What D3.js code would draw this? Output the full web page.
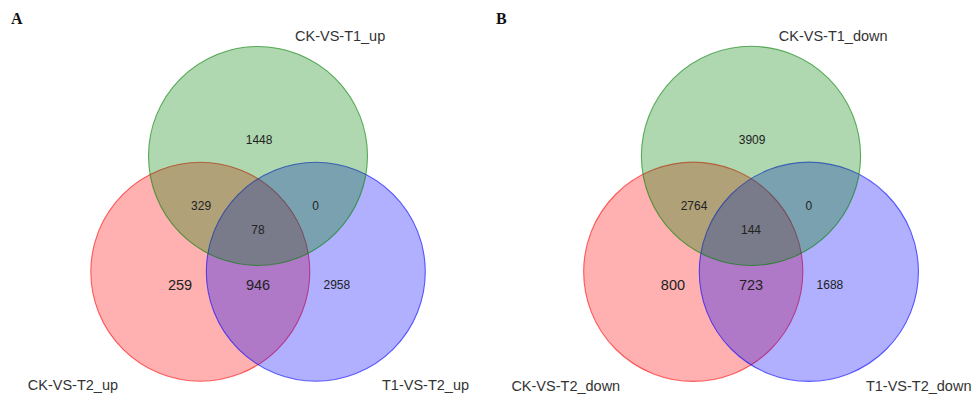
<!DOCTYPE html>
<html>
<head>
<meta charset="utf-8">
<script src="https://cdn.jsdelivr.net/npm/d3@7"></script>
<style>
  body { margin: 0; background: #fff; }
  svg { display: block; }
</style>
</head>
<body>
<svg width="974" height="398"></svg>
<script>
// panel letters
var panels = ["A", "B"];

// set names per panel (order: top, bottom-left, bottom-right)
var setNamesA = ["CK-VS-T1_up", "CK-VS-T2_up", "T1-VS-T2_up"];
var setNamesB = ["CK-VS-T1_down", "CK-VS-T2_down", "T1-VS-T2_down"];

// region counts: [top only, top&left, top&right, all three, left only, left&right, right only]
var regionKeys = ["t", "tl", "tr", "tlr", "l", "lr", "r"];
var countsA = [1448, 329, 0, 78, 259, 946, 2958];
var countsB = [3909, 2764, 0, 144, 800, 723, 1688];

var svg = d3.select("svg");

// unit layout of the 3-circle venn (radius = 1)
var circleLayout = {
  t: { x: 0, y: -0.53, color: "#008000" },
  l: { x: -0.527, y: 0.527, color: "#ff0000" },
  r: { x: 0.528, y: 0.527, color: "#0000ff" }
};
var drawOrder = ["l", "r", "t"]; // red, blue, green
var regionPos = {
  t: [0.01, -0.676], tl: [-0.52, -0.073], tr: [0.527, -0.073], tlr: [0, 0.146],
  l: [-0.712, 0.648], lr: [0, 0.648], r: [0.72, 0.648]
};
var bigRegions = ["l", "lr"]; // drawn a bit larger in the original
var namePos = { t: [0.75, -1.625], l: [-1.69, 1.565], r: [1.53, 1.565] };

function drawVenn(cx, cy, rad, names, counts, letter, letterX) {
  var x = d3.scaleLinear().domain([-1, 1]).range([cx - rad, cx + rad]);
  var y = d3.scaleLinear().domain([-1, 1]).range([cy - rad, cy + rad]);
  var g = svg.append("g");

  g.selectAll("circle")
    .data(drawOrder)
    .enter()
    .append("circle")
    .attr("cx", (k) => x(circleLayout[k].x))
    .attr("cy", (k) => y(circleLayout[k].y))
    .attr("r", rad)
    .attr("fill", (k) => circleLayout[k].color)
    .attr("fill-opacity", 0.31)
    .attr("stroke", (k) => circleLayout[k].color)
    .attr("stroke-opacity", 0.6)
    .attr("stroke-width", 1.1);

  g.selectAll("text.count")
    .data(counts)
    .enter()
    .append("text")
    .attr("class", "count")
    .attr("x", (d, i) => x(regionPos[regionKeys[i]][0]))
    .attr("y", (d, i) => y(regionPos[regionKeys[i]][1]))
    .attr("dy", "0.35em")
    .attr("text-anchor", "middle")
    .attr("font-family", "Liberation Sans, Arial, sans-serif")
    .attr("font-size", (d, i) => (bigRegions.indexOf(regionKeys[i]) >= 0 ? "14.5px" : "12px"))
    .attr("fill", "#222")
    .text((d) => d);

  var nameKeys = ["t", "l", "r"];
  g.selectAll("text.setname")
    .data(names)
    .enter()
    .append("text")
    .attr("class", "setname")
    .attr("x", (d, i) => x(namePos[nameKeys[i]][0]))
    .attr("y", (d, i) => y(namePos[nameKeys[i]][1]))
    .attr("dy", "0.35em")
    .attr("text-anchor", "middle")
    .attr("font-family", "Liberation Sans, Arial, sans-serif")
    .attr("font-size", "14.5px")
    .attr("fill", "#333")
    .text((d) => d);

  g.append("text")
    .attr("x", letterX)
    .attr("y", 24)
    .attr("font-family", "Liberation Serif, Times New Roman, serif")
    .attr("font-weight", "bold")
    .attr("font-size", "16px")
    .attr("fill", "#111")
    .text(letter);
}

drawVenn(258, 214, 109.5, setNamesA, countsA, panels[0], 11);
drawVenn(751, 214, 109.6, setNamesB, countsB, panels[1], 496);
</script>
</body>
</html>
